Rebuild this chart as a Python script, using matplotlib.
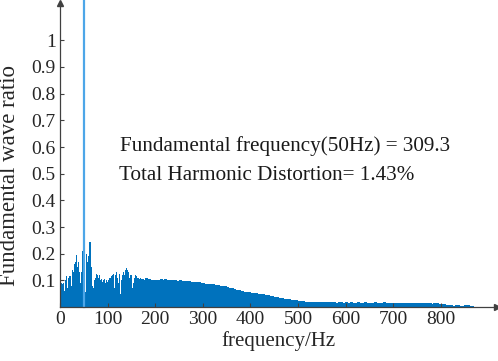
import numpy as np
import matplotlib
matplotlib.use("Agg")
import matplotlib.pyplot as plt

# ---- data ----
low_freqs = list(range(1, 170, 2))  # Hz
low_ratio = [0.07, 0.09, 0.085, 0.09, 0.06, 0.10, 0.115, 0.07, 0.05, 0.11,
             0.115, 0.05, 0.08, 0.14, 0.13, 0.16, 0.17, 0.195, 0.15, 0.17,
             0.13, 0.09, 0.13, 0.21, 0.12, 0.10, 0.055, 0.20, 0.17, 0.12,
             0.19, 0.245, 0.15, 0.11, 0.08, 0.07, 0.10, 0.11, 0.125, 0.12,
             0.11, 0.12, 0.10, 0.105, 0.095, 0.10, 0.105, 0.09, 0.10, 0.095,
             0.10, 0.09, 0.11, 0.10, 0.115, 0.12, 0.125, 0.07, 0.12, 0.13,
             0.11, 0.09, 0.125, 0.05, 0.10, 0.12, 0.13, 0.12, 0.14, 0.145,
             0.14, 0.13, 0.11, 0.09, 0.12, 0.10, 0.07, 0.09, 0.11, 0.12,
             0.115, 0.11, 0.11, 0.105, 0.11]
high_freqs = list(np.arange(172.5, 870, 5.0))  # Hz
high_ratio = [0.105, 0.103, 0.107, 0.104, 0.102, 0.100, 0.103, 0.101, 0.104, 0.102,
              0.104, 0.101, 0.103, 0.100, 0.102, 0.099, 0.101, 0.098, 0.097, 0.096,
              0.097, 0.095, 0.094, 0.092, 0.093, 0.090, 0.089, 0.088, 0.086, 0.085,
              0.085, 0.083, 0.082, 0.080, 0.079, 0.077, 0.075, 0.072, 0.070, 0.067,
              0.065, 0.062, 0.060, 0.058, 0.056, 0.055, 0.053, 0.052, 0.051, 0.049,
              0.048, 0.047, 0.046, 0.044, 0.042, 0.040, 0.038, 0.036, 0.034, 0.033,
              0.031, 0.030, 0.029, 0.027, 0.026, 0.025, 0.024, 0.022, 0.021, 0.020,
              0.020, 0.019, 0.019, 0.018, 0.019, 0.018, 0.017, 0.018, 0.017, 0.017,
              0.018, 0.017, 0.016, 0.017, 0.018, 0.016, 0.017, 0.016, 0.017, 0.016,
              0.016, 0.017, 0.015, 0.016, 0.017, 0.016, 0.015, 0.016, 0.017, 0.016,
              0.016, 0.015, 0.017, 0.016, 0.015, 0.016, 0.015, 0.016, 0.015, 0.016,
              0.015, 0.016, 0.014, 0.015, 0.016, 0.015, 0.014, 0.015, 0.016, 0.014,
              0.015, 0.014, 0.013, 0.015, 0.014, 0.013, 0.012, 0.013, 0.008, 0.006,
              0.007, 0.005, 0.006, 0.008, 0.005, 0.004, 0.007, 0.006, 0.005, 0.004]
fundamental_freq = 50
x_ticks = [0, 100, 200, 300, 400, 500, 600, 700, 800]
y_ticks = [0.1, 0.2, 0.3, 0.4, 0.5, 0.6, 0.7, 0.8, 0.9, 1.0]
y_tick_labels = ["0.1", "0.2", "0.3", "0.4", "0.5", "0.6", "0.7", "0.8", "0.9", "1"]
line1 = "Fundamental frequency(50Hz) = 309.3"
line2 = "Total Harmonic Distortion= 1.43%"

plt.rcParams['font.family'] = ['Liberation Serif', 'DejaVu Serif']

W, H = 498, 361
fig = plt.figure(figsize=(W/100, H/100), dpi=100)
ax = fig.add_axes([60/W, 1 - 307/H, 437/W, 304/H])

bar_color = "#0072BD"
ax.bar(low_freqs, low_ratio, width=2.4, color=bar_color, linewidth=0)
ax.bar(high_freqs, high_ratio, width=6.0, color=bar_color, linewidth=0)
ax.axvline(fundamental_freq, ymin=0, ymax=1.02, color="#4DA6E8", lw=1.6, clip_on=False)

ax.set_xlim(0, 918)
ax.set_ylim(0, 1.14)

axis_col = "#404040"
for s in ["top", "right"]:
    ax.spines[s].set_visible(False)
for s in ["left", "bottom"]:
    ax.spines[s].set_color(axis_col)
    ax.spines[s].set_linewidth(0.9)
    ax.spines[s].set_zorder(3)
ax.plot(1, 0, ">", color=axis_col, ms=5, transform=ax.transAxes, clip_on=False)
ax.plot(0, 1, "^", color=axis_col, ms=5, transform=ax.transAxes, clip_on=False)

ax.set_xticks(x_ticks)
ax.set_xticklabels([str(t) for t in x_ticks])
ax.set_yticks(y_ticks)
ax.set_yticklabels(y_tick_labels)
ax.tick_params(direction="in", length=3, width=0.8, color=axis_col,
               labelsize=14, labelcolor="#262626", pad=3)

ax.set_xlabel("frequency/Hz", fontsize=15, color="#262626", labelpad=2)
fig.text(10/W, 1 - 175/H, "Fundamental wave ratio", rotation=90, fontsize=16.5,
         color="#262626", ha="center", va="center")

fig.text(120/W, 1 - 150.5/H, line1, fontsize=15.2,
         va="baseline", ha="left", color="#1a1a1a")
fig.text(119/W, 1 - 180.5/H, line2, fontsize=15.2,
         va="baseline", ha="left", color="#1a1a1a")

fig.savefig("out.png", dpi=100)
